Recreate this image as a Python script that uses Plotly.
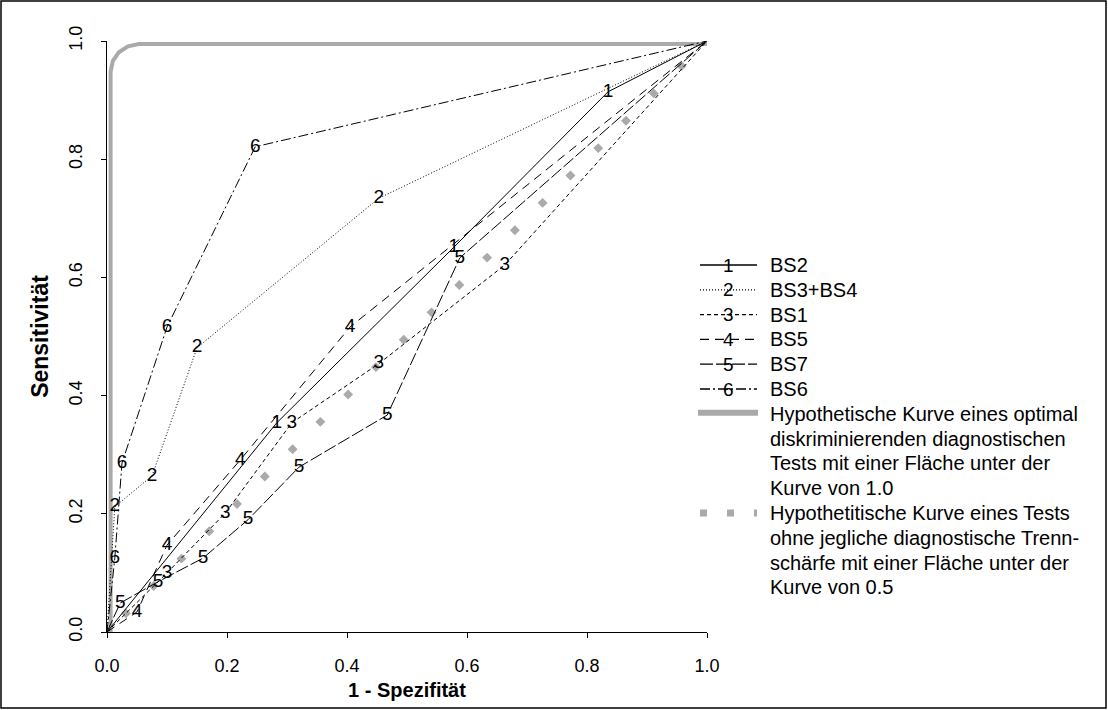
import plotly.graph_objects as go

# ---------------- data ----------------
series_names = ["BS2", "BS3+BS4", "BS1", "BS5", "BS7", "BS6"]
series_marks = ["1", "2", "3", "4", "5", "6"]

bs2_x = [0, 0.283, 0.578, 0.835, 1.0]
bs2_y = [0, 0.354, 0.651, 0.914, 1.0]

bs34_x = [0, 0.013, 0.075, 0.150, 0.453, 1.0]
bs34_y = [0, 0.212, 0.264, 0.481, 0.734, 1.0]

bs1_x = [0, 0.100, 0.197, 0.308, 0.453, 0.663, 1.0]
bs1_y = [0, 0.100, 0.201, 0.354, 0.454, 0.621, 1.0]

bs5_x = [0, 0.050, 0.100, 0.222, 0.405, 1.0]
bs5_y = [0, 0.034, 0.147, 0.291, 0.516, 1.0]

bs7_x = [0, 0.022, 0.085, 0.160, 0.235, 0.320, 0.467, 0.588, 1.0]
bs7_y = [0, 0.049, 0.085, 0.125, 0.190, 0.279, 0.367, 0.633, 1.0]

bs6_x = [0, 0.013, 0.025, 0.100, 0.247, 1.0]
bs6_y = [0, 0.125, 0.286, 0.516, 0.821, 1.0]

opt_x = [0.006, 0.006, 0.0096, 0.0198, 0.035, 0.053, 1.0]
opt_y = [0.0, 0.948, 0.966, 0.981, 0.991, 0.995, 0.995]

diag_x = [0.0, 1.0]
diag_y = [0.0, 1.0]

tick_vals = [0.0, 0.2, 0.4, 0.6, 0.8, 1.0]
tick_text = ["0.0", "0.2", "0.4", "0.6", "0.8", "1.0"]

legend_opt = ["Hypothetische Kurve eines optimal",
              "diskriminierenden diagnostischen",
              "Tests mit einer Fläche unter der",
              "Kurve von 1.0"]
legend_diag = ["Hypothetitische Kurve eines Tests",
               "ohne jegliche diagnostische Trenn-",
               "schärfe mit einer Fläche unter der",
               "Kurve von 0.5"]

x_title = "1 - Spezifität"
y_title = "Sensitivität"

# ---------------- layout helpers ----------------
W, H = 1108, 710
PL, PR, PT, PB = 107, 707, 41, 632
FONT = "Arial, Liberation Sans, sans-serif"
GRAY = "#aaaaaa"


def px_x(p):
    return (p - PL) / (PR - PL)


def px_y(p):
    return (PB - p) / (PB - PT)


styles = [
    "solid",
    "1px,2px",
    "4px,3px",
    "9px,6px",
    "13px,3px",
    "10px,3px,2px,3px",
]

series = [
    (bs2_x, bs2_y),
    (bs34_x, bs34_y),
    (bs1_x, bs1_y),
    (bs5_x, bs5_y),
    (bs7_x, bs7_y),
    (bs6_x, bs6_y),
]

fig = go.Figure()

# optimal curve
fig.add_trace(go.Scatter(
    x=opt_x, y=opt_y, mode="lines",
    line=dict(color=GRAY, width=4),
    showlegend=False, hoverinfo="skip"))

# diagonal (no discrimination)
fig.add_trace(go.Scatter(
    x=diag_x, y=diag_y, mode="lines",
    line=dict(color=GRAY, width=7, dash="0px,23px,7px,9px"),
    showlegend=False, hoverinfo="skip"))

for (xs, ys), name, mk, dash in zip(series, series_names, series_marks, styles):
    txt = [""] + [mk] * (len(xs) - 2) + [""]
    fig.add_trace(go.Scatter(
        x=xs, y=ys, mode="lines+text", text=txt,
        textposition="middle center",
        textfont=dict(family=FONT, size=19, color="black"),
        line=dict(color="black", width=1, dash=dash),
        cliponaxis=False, name=name, showlegend=False))

shapes = []
annotations = []

# border around the whole figure
shapes.append(dict(type="rect", xref="paper", yref="paper",
                   x0=px_x(1), x1=px_x(1106), y0=px_y(708), y1=px_y(1),
                   line=dict(color="black", width=1.5), fillcolor="rgba(0,0,0,0)",
                   layer="above"))

# manual legend
ROW0, DROW = 265, 24.8
LX0, LX1, LXM, LTX = 700, 757, 728, 768


def row_y(k):
    return ROW0 + DROW * k


for k, (name, mk, dash) in enumerate(zip(series_names, series_marks, styles)):
    y = px_y(row_y(k))
    shapes.append(dict(type="line", xref="paper", yref="paper",
                       x0=px_x(LX0), x1=px_x(LX1), y0=y, y1=y,
                       line=dict(color="black", width=1.3, dash=dash)))
    annotations.append(dict(xref="paper", yref="paper", x=px_x(LXM), y=y,
                            text=mk, showarrow=False, xanchor="center", yanchor="middle",
                            font=dict(family=FONT, size=19, color="black")))
    annotations.append(dict(xref="paper", yref="paper", x=px_x(LTX), y=y,
                            text=name, showarrow=False, xanchor="left", yanchor="middle",
                            font=dict(family=FONT, size=20, color="black")))

# optimal curve legend entry
y = px_y(row_y(6) - 1)
shapes.append(dict(type="line", xref="paper", yref="paper",
                   x0=px_x(698), x1=px_x(758), y0=y, y1=y,
                   line=dict(color=GRAY, width=6)))
for i, line in enumerate(legend_opt):
    annotations.append(dict(xref="paper", yref="paper", x=px_x(LTX), y=px_y(row_y(6 + i)),
                            text=line, showarrow=False, xanchor="left", yanchor="middle",
                            font=dict(family=FONT, size=20, color="black")))

# diagonal legend entry
y = px_y(row_y(10))
shapes.append(dict(type="line", xref="paper", yref="paper",
                   x0=px_x(700), x1=px_x(757), y0=y, y1=y,
                   line=dict(color=GRAY, width=7, dash="7px,20px")))
for i, line in enumerate(legend_diag):
    annotations.append(dict(xref="paper", yref="paper", x=px_x(LTX), y=px_y(row_y(10 + i)),
                            text=line, showarrow=False, xanchor="left", yanchor="middle",
                            font=dict(family=FONT, size=20, color="black")))

axis_common = dict(
    range=[0, 1], tickvals=tick_vals, ticktext=tick_text,
    ticks="outside", ticklen=5, tickcolor="black", tickwidth=1,
    showline=True, linecolor="black", linewidth=1,
    showgrid=False, zeroline=False,
    tickfont=dict(family=FONT, size=18, color="black"),
)

fig.update_layout(
    width=W, height=H,
    margin=dict(l=PL, r=W - PR, t=PT, b=H - PB, autoexpand=False),
    paper_bgcolor="white", plot_bgcolor="white",
    font=dict(family=FONT, color="black"),
    xaxis=dict(**axis_common, ticklabelstandoff=12,
               title=dict(text="<b>" + x_title + "</b>", standoff=8,
                          font=dict(family=FONT, size=20, color="black"))),
    yaxis=dict(**axis_common, tickangle=-90, ticklabelstandoff=12,
               title=dict(text="<b>" + y_title + "</b>", standoff=10,
                          font=dict(family=FONT, size=23, color="black"))),
    shapes=shapes,
    annotations=annotations,
    showlegend=False,
)

fig.write_html("out.html")
